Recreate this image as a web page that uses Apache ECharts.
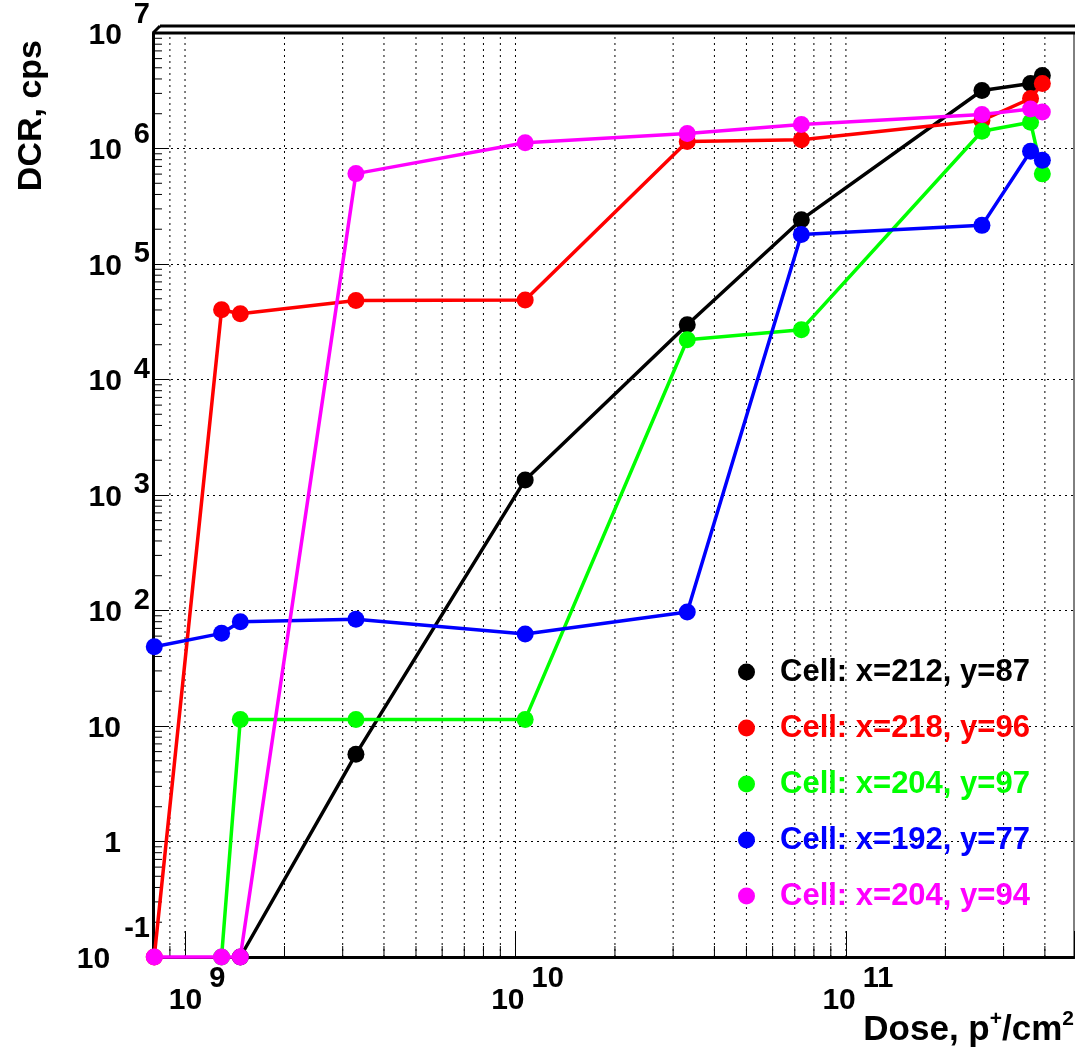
<!DOCTYPE html>
<html lang="en">
<head>
<meta charset="UTF-8">
<title>DCR vs dose</title>
<script src="https://cdn.jsdelivr.net/npm/echarts@6/dist/echarts.min.js"></script>
<style>html,body{margin:0;padding:0;background:#fff}</style>
</head>
<body>
<div id="pic1" style="width:1075px;height:1058px"></div>
<script>
// dose of each measurement, p+/cm2
var doses = [8.07e8, 1.29e9, 1.47e9, 3.29e9, 1.07e10, 3.31e10, 7.33e10, 2.58e11, 3.62e11, 3.93e11];
// DCR of each cell, cps (null = not measured, 0.1 = sits on the bottom of the axis)
var cell212_87 = [null, null, 0.1, 5.7, 1350, 29800, 2.42e5, 3.18e6, 3.65e6, 4.28e6];
var cell218_96 = [0.1, 40200, 37100, 48400, 48700, 1.15e6, 1.19e6, 1.75e6, 2.71e6, 3.65e6];
var cell204_97 = [null, 0.1, 11.4, 11.4, 11.4, 22100, 27000, 1.41e6, 1.69e6, 6.03e5];
var cell192_77 = [48.6, 63.4, 80, 84, 62.5, 97, 1.8e5, 2.16e5, 9.46e5, 7.91e5];
var cell204_94 = [0.1, 0.1, 0.1, 6.06e5, 1.12e6, 1.35e6, 1.61e6, 1.97e6, 2.2e6, 2.07e6];
var cellNames = ['Cell: x=212, y=87', 'Cell: x=218, y=96', 'Cell: x=204, y=97', 'Cell: x=192, y=77', 'Cell: x=204, y=94'];
var cellValues = [cell212_87, cell218_96, cell204_97, cell192_77, cell204_94];
var cellColors = ['#000000', '#ff0000', '#00ff00', '#0000ff', '#ff00ff'];
var xRange = [8e8, 4.9e11];
var yRange = [0.1, 1e7];

var FONT = "'Liberation Sans', Arial, sans-serif";

// ROOT style grid: dotted line at every x tick (2..9 x 10^n too), minor ticks on y
var xGridValues = [];
var yMinorValues = [];
for (var d = 8; d <= 11; d++) {
    for (var m = 1; m <= 9; m++) {
        var v = m * Math.pow(10, d);
        if (v > xRange[0] && v < xRange[1]) xGridValues.push([v, yRange[0]]);
    }
}
for (var d2 = -1; d2 < 7; d2++) {
    for (var m2 = 2; m2 <= 9; m2++) {
        yMinorValues.push([xRange[0], m2 * Math.pow(10, d2)]);
    }
}

function isDecade(v) {
    var e = Math.log10(v);
    return Math.abs(e - Math.round(e)) < 1e-6;
}

function pairs(vals) {
    var out = [];
    for (var i = 0; i < doses.length; i++) {
        if (vals[i] !== null) out.push([doses[i], vals[i]]);
    }
    return out;
}

var myChart = echarts.init(document.getElementById('pic1'));

var series = [];
// vertical grid lines + small x ticks
series.push({
    type: 'custom',
    silent: true,
    z: 1,
    data: xGridValues,
    renderItem: function (params, api) {
        var x = api.value(0);
        var p0 = api.coord([x, yRange[0]]);
        var p1 = api.coord([x, yRange[1]]);
        var kids = [{
            type: 'line',
            shape: {x1: p0[0], y1: p0[1], x2: p1[0], y2: p1[1]},
            style: {stroke: '#000', lineWidth: 1, lineDash: [2, 4]}
        }];
        if (!isDecade(x)) {
            kids.push({
                type: 'line',
                shape: {x1: p0[0], y1: p0[1], x2: p0[0], y2: p0[1] - 11},
                style: {stroke: '#000', lineWidth: 1}
            });
        }
        return {type: 'group', children: kids};
    }
});
// y minor ticks
series.push({
    type: 'custom',
    silent: true,
    z: 1,
    data: yMinorValues,
    renderItem: function (params, api) {
        var p = api.coord([xRange[0], api.value(1)]);
        return {
            type: 'line',
            shape: {x1: p[0], y1: p[1], x2: p[0] + 9, y2: p[1]},
            style: {stroke: '#000', lineWidth: 1}
        };
    }
});
for (var k = 0; k < cellNames.length; k++) {
    series.push({
        name: cellNames[k],
        type: 'line',
        data: pairs(cellValues[k]),
        symbol: 'circle',
        symbolSize: 17,
        clip: false,
        z: 3 + k,
        itemStyle: {color: cellColors[k]},
        lineStyle: {color: cellColors[k], width: 3.5},
        emphasis: {disabled: true}
    });
}

var expStyle = function (raise, left) {
    return {fontSize: 29, fontWeight: 'bold', color: '#000', fontFamily: FONT, padding: [0, 0, raise * 2, left]};
};

var option = {
    backgroundColor: '#fff',
    animation: false,
    textStyle: {fontFamily: FONT},
    grid: {
        left: 153, right: 1, top: 33, bottom: 101,
        show: true, borderColor: '#000', borderWidth: 1,
        outerBoundsMode: 'none'
    },
    legend: {
        orient: 'vertical',
        left: 738,
        top: 656,
        padding: 0,
        icon: 'circle',
        itemWidth: 17,
        itemHeight: 17,
        itemGap: 24,
        selectedMode: false,
        textStyle: {fontSize: 31, fontWeight: 'bold', fontFamily: FONT, lineHeight: 32, padding: [0, 0, 0, 20]},
        data: cellNames.map(function (n, i) {
            return {name: n, textStyle: {color: cellColors[i]}};
        })
    },
    xAxis: {
        type: 'log',
        logBase: 10,
        min: xRange[0],
        max: xRange[1],
        splitNumber: 3,
        name: '{n|Dose, p}{s|+}{n|/cm}{s|2}',
        nameLocation: 'end',
        nameGap: 0,
        nameMoveOverlap: false,
        nameTextStyle: {
            align: 'right',
            verticalAlign: 'top',
            padding: [52, 0, 0, 0],
            rich: {
                n: {fontSize: 35, fontWeight: 'bold', color: '#000', fontFamily: FONT},
                s: {fontSize: 21, fontWeight: 'bold', color: '#000', fontFamily: FONT, padding: [0, 0, 22, 0]}
            }
        },
        axisLine: {lineStyle: {color: '#000', width: 3}},
        axisTick: {inside: true, length: 26, lineStyle: {color: '#000', width: 1}},
        splitLine: {show: false},
        axisLabel: {
            margin: 7,
            formatter: function (v) {
                if (!isDecade(v)) return '';
                return '{sp| }{b|10}{e|' + Math.round(Math.log10(v)) + '}';
            },
            rich: {
                sp: {width: 24},
                b: {fontSize: 30, fontWeight: 'bold', color: '#000', fontFamily: FONT},
                e: expStyle(22, 7)
            }
        }
    },
    yAxis: {
        type: 'log',
        logBase: 10,
        min: yRange[0],
        max: yRange[1],
        splitNumber: 8,
        name: 'DCR, cps',
        nameLocation: 'end',
        nameRotate: 90,
        nameGap: -7,
        nameMoveOverlap: false,
        nameTextStyle: {
            fontSize: 34, fontWeight: 'bold', color: '#000', fontFamily: FONT,
            align: 'right', verticalAlign: 'bottom',
            padding: [0, 0, 104, 0]
        },
        axisLine: {lineStyle: {color: '#000', width: 3}},
        axisTick: {inside: true, length: 16, lineStyle: {color: '#000', width: 1}},
        splitLine: {show: true, lineStyle: {color: '#000', width: 1, type: [2, 4]}},
        axisLabel: {
            margin: 3,
            formatter: function (v) {
                var e = Math.round(Math.log10(v));
                if (e === 0) return '{b|1}{sp| }';
                if (e === 1) return '{b|10}{sp| }';
                if (e === 7) return '{b|10}{eHi|7}';
                if (e === 6) return '{b|10}{eMid|6}';
                if (e < 0) return '{b|10}{eNeg|' + e + '}';
                return '{b|10}{e|' + e + '}';
            },
            rich: {
                sp: {width: 29},
                b: {fontSize: 30, fontWeight: 'bold', color: '#000', fontFamily: FONT, padding: [5, 0, 0, 0]},
                e: expStyle(10, 12),
                eMid: expStyle(14, 12),
                eHi: expStyle(18, 12),
                eNeg: expStyle(28, 14)
            }
        }
    },
    // ROOT draws a doubled top edge on the frame
    graphic: [
        {type: 'line', shape: {x1: 160, y1: 26, x2: 1075, y2: 26}, style: {stroke: '#000', lineWidth: 3}, z: 10},
        {type: 'line', shape: {x1: 153, y1: 33, x2: 160, y2: 26}, style: {stroke: '#000', lineWidth: 3}, z: 10},
        {type: 'line', shape: {x1: 153, y1: 33, x2: 1075, y2: 33}, style: {stroke: '#000', lineWidth: 3}, z: 10}
    ],
    series: series
};

myChart.setOption(option, true);
</script>
</body>
</html>
